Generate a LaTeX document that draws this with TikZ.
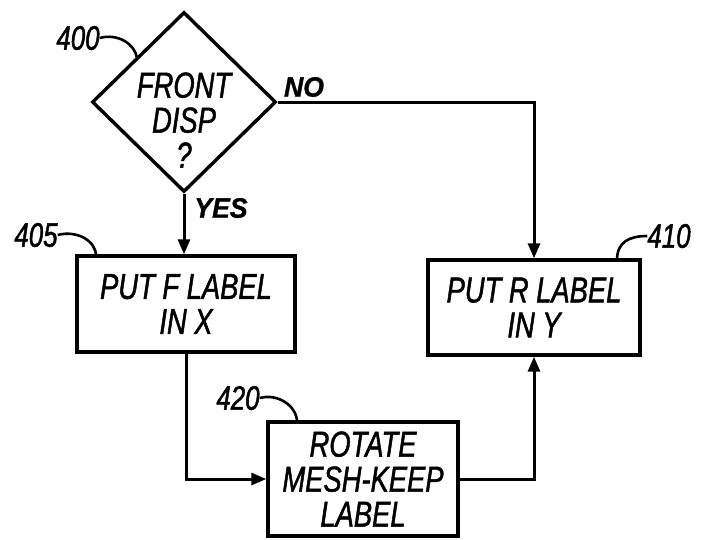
\documentclass[tikz,border=0pt]{standalone}
\usepackage{fontspec}
\setmainfont{Liberation Sans}[FakeStretch=0.76,FakeBold=1.3]
\newfontfamily\bfitfont{Liberation Sans}[FakeStretch=0.95,FakeBold=1.0]
\usetikzlibrary{shapes.geometric,arrows.meta}
\begin{document}
\begin{tikzpicture}[x=1pt,y=-1pt,
  txt/.style={font=\fontsize{36}{35}\selectfont\itshape, align=center, inner sep=0pt},
  procbox/.style={draw, line width=3.4pt, inner sep=0pt},
  flow/.style={line width=3pt, -{Triangle[length=15pt,width=12pt]}},
  yesno/.style={font=\fontsize{28}{28}\bfitfont\bfseries\itshape, inner sep=0pt},
  refnum/.style={font=\fontsize{34}{34}\selectfont\itshape, inner sep=0pt},
  leader/.style={line width=2.6pt}]
\useasboundingbox (0,0) rectangle (703,539);
\node[draw, line width=3.4pt, shape=diamond, minimum width=184pt, minimum height=180pt, inner sep=0pt] (d) at (184,102) {};
\node[txt] (dtxt) at (184,120) {FRONT\\DISP\\?};
\node[procbox, minimum width=218pt, minimum height=96pt] (b405) at (186,304) {};
\node[txt] at (b405) {PUT F LABEL\\IN X};
\node[procbox, minimum width=212pt, minimum height=95pt] (b410) at (534,307.5) {};
\node[txt] at (b410) {PUT R LABEL\\IN Y};
\node[procbox, minimum width=190pt, minimum height=114pt] (b420) at (363,479) {};
\node[txt] at (b420) {ROTATE\\MESH-KEEP\\LABEL};
\draw[flow] (d.south) -- (d.south |- b405.north);
\draw[flow] (d.east) -| (b410.north);
\draw[flow] (b405.south) |- (b420.west);
\draw[flow] (b420.east) -| (b410.south);
\node[yesno] (no) at (304,87) {NO};
\node[yesno] (yes) at (221,208) {YES};
\node[refnum] (n400) at (78,38) {400};
\node[refnum] (n405) at (36,235) {405};
\node[refnum] (n410) at (669,236) {410};
\node[refnum] (n420) at (238,398) {420};
\coordinate (e400) at (137,58);
\coordinate (e405) at (96,256);
\coordinate (e410) at (617,260);
\coordinate (e420) at (297,422);
\draw[leader] (n400.east) .. controls +(18,-5) and +(-2,-14) .. (e400);
\draw[leader] (n405.east) .. controls +(18,-5) and +(0,-16) .. (e405);
\draw[leader] (n410.west) .. controls +(-18,0) and +(0,-18) .. (e410);
\draw[leader] (n420.east) .. controls +(18,-5) and +(0,-16) .. (e420);
\end{tikzpicture}
\end{document}
